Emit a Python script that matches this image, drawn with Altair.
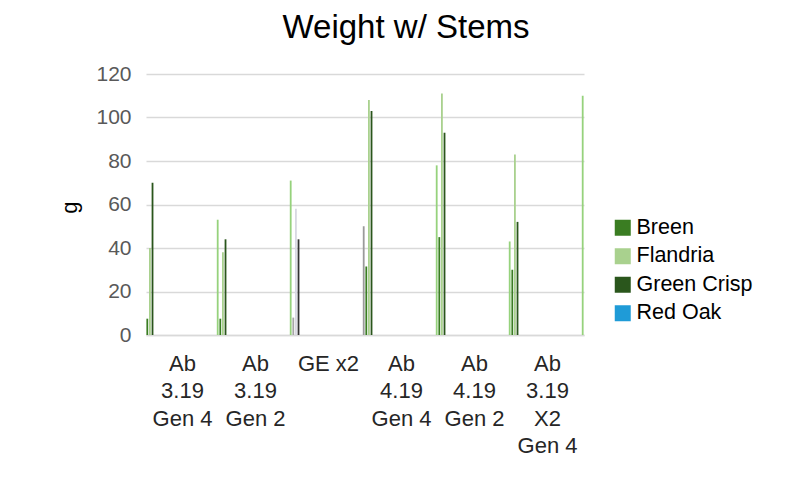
import json
import altair as alt
import pandas as pd

categories = ["Ab 3.19 Gen 4", "Ab 3.19 Gen 2", "GE x2", "Ab 4.19 Gen 4", "Ab 4.19 Gen 2", "Ab 3.19 X2 Gen 4"]
category_lines = [["Ab", "3.19", "Gen 4"], ["Ab", "3.19", "Gen 2"], ["GE x2"],
                  ["Ab", "4.19", "Gen 4"], ["Ab", "4.19", "Gen 2"], ["Ab", "3.19", "X2", "Gen 4"]]

breen = [7.5, 7.5, 8, 31.5, 45, 30]
flandria = [40, 38, 58, 108, 111, 83]
green_crisp = [70, 44, 44, 103, 93, 52]
red_oak = [None, None, None, None, None, None]
series5 = [53, 71, 50, 78, 43, 110]

legend_series = ["Breen", "Flandria", "Green Crisp", "Red Oak"]
grey_categories = ["GE x2"]

series = {
    "Breen": breen,
    "Flandria": flandria,
    "Green Crisp": green_crisp,
    "Red Oak": red_oak,
    "Series 5": series5,
}

rows = []
for name, vals in series.items():
    for cat, v in zip(categories, vals):
        if v is None:
            continue
        shade = ("GE " + name) if cat in grey_categories else name
        rows.append({"category": cat, "slot": name, "shade": shade, "weight": v})
df = pd.DataFrame(rows)

slots = legend_series + [f"_{i}" for i in range(4, 27)] + ["Series 5"]

shade_domain = ["Breen", "Flandria", "Green Crisp", "Red Oak", "Series 5",
                "GE Breen", "GE Flandria", "GE Green Crisp", "GE Series 5"]
shade_range = ["#3a7d22", "#a9d18e", "#2a561c", "#1f9bd7", "#96d27c",
               "#a6a6a6", "#d8d8e2", "#333333", "#9a9a9a"]

label_map = json.dumps(dict(zip(categories, category_lines)))
FONT = "Liberation Sans"

chart = alt.Chart(df).mark_bar(width=1.8).encode(
    x=alt.X("category:N", sort=categories,
            scale=alt.Scale(paddingInner=0, paddingOuter=0),
            axis=alt.Axis(title=None, labelAngle=0, labelExpr=f"{label_map}[datum.value]",
                          labelFontSize=22, labelLineHeight=27.5, labelBaseline="top",
                          labelPadding=18, ticks=False, domainColor="#d9d9d9",
                          domainWidth=1.5, labelColor="#262626", labelFont=FONT)),
    xOffset=alt.XOffset("slot:N", scale=alt.Scale(domain=slots, paddingInner=0, paddingOuter=0)),
    y=alt.Y("weight:Q", scale=alt.Scale(domain=[0, 120]),
            axis=alt.Axis(values=[0, 20, 40, 60, 80, 100, 120], title="g", titleFontSize=22,
                          titleFontWeight="normal", titleColor="#000000", titleFont=FONT,
                          titleX=-77, titleY=133, titleAlign="center", titleBaseline="middle",
                          labelFontSize=21, labelColor="#595959", labelFont=FONT,
                          labelPadding=15, ticks=False, domain=False,
                          gridColor="#d9d9d9", gridWidth=1.5)),
    color=alt.Color("shade:N", scale=alt.Scale(domain=shade_domain, range=shade_range),
                    legend=alt.Legend(values=legend_series, title=None, orient="none",
                                      legendX=466, legendY=143, symbolType="square",
                                      symbolSize=256, symbolStrokeWidth=0,
                                      labelFontSize=21.5, labelColor="#000000", labelFont=FONT,
                                      labelOffset=3, rowPadding=5.5)),
).properties(
    width=438,
    height=261,
    title=alt.TitleParams("Weight w/ Stems", fontSize=33, fontWeight="normal", font=FONT,
                          color="#000000", anchor="middle", dx=41, offset=18),
    autosize=alt.AutoSizeParams(type="none"),
    padding={"left": 138, "top": 66, "right": 180, "bottom": 130},
).configure_view(stroke=None)

chart.save("out.html", embed_options={"renderer": "svg", "actions": False})
